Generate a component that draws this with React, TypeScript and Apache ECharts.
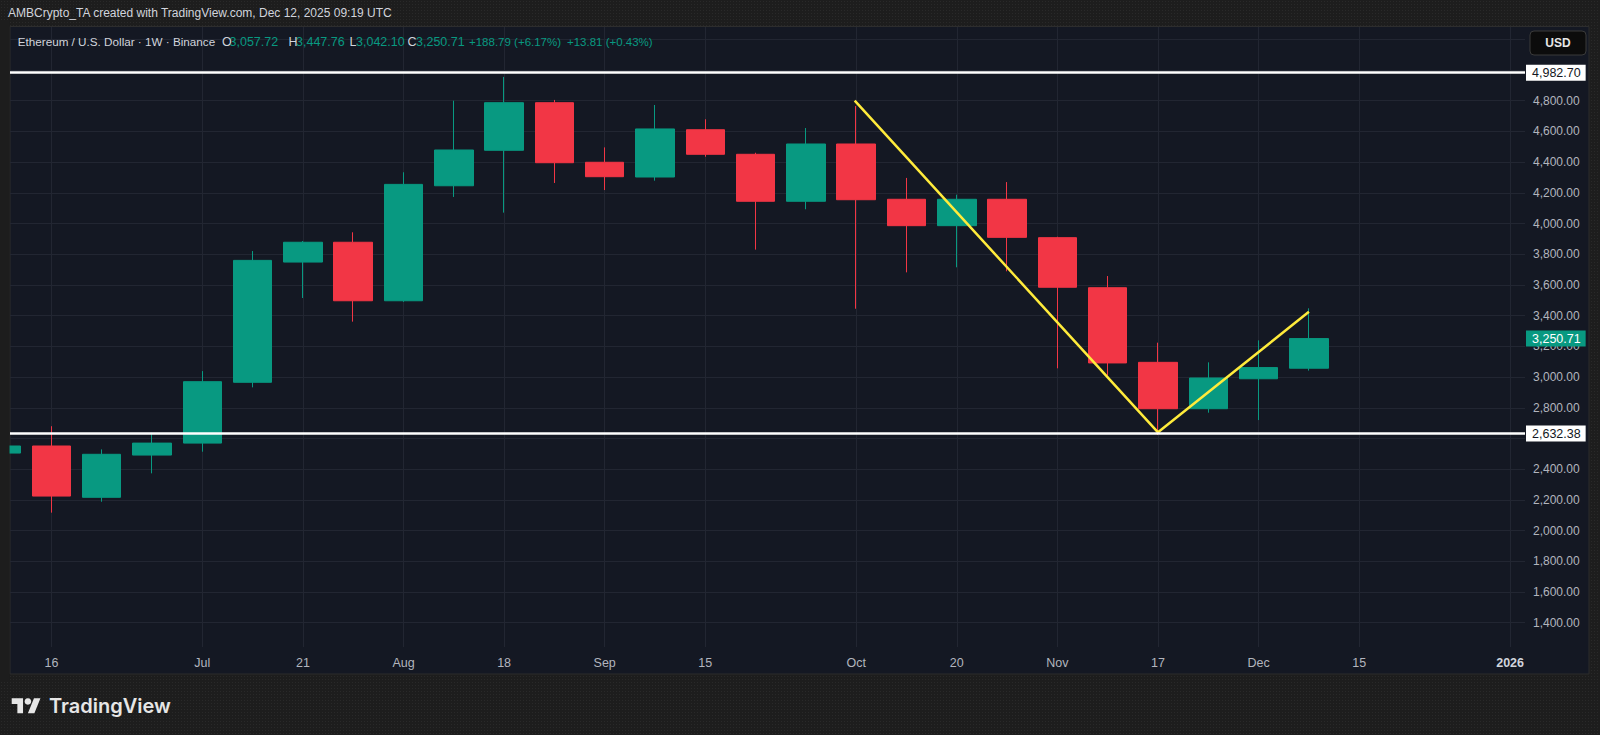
import React, { useEffect, useRef } from 'react';
import * as echarts from 'echarts';

// ---- data (weekly ETH/USD, Binance) ----
const weeks = ['Jun 9','Jun 16','Jun 23','Jun 30','Jul 7','Jul 14','Jul 21','Jul 28','Aug 4','Aug 11','Aug 18','Aug 25','Sep 1','Sep 8','Sep 15','Sep 22','Sep 29','Oct 6','Oct 13','Oct 20','Oct 27','Nov 3','Nov 10','Nov 17','Nov 24','Dec 1','Dec 8'];
const openP  = [2505, 2551, 2217, 2492, 2570, 2966, 3749, 3878, 3497, 4246, 4477, 4787, 4399, 4303, 4611, 4451, 4145, 4518, 4158, 3986, 4158, 3908, 3582, 3096, 2794, 2989, 3057.72];
const highP  = [2880, 2680, 2529, 2637, 3039, 3821, 3886, 3943, 4334, 4800, 4955, 4805, 4496, 4772, 4679, 4461, 4622, 4765, 4297, 4188, 4270, 3914, 3658, 3224, 3096, 3239, 3447.76];
const lowP   = [2440, 2117, 2188, 2373, 2514, 2933, 3515, 3361, 3490, 4173, 4071, 4264, 4218, 4279, 4435, 3830, 4093, 3445, 3682, 3715, 3689, 3057, 3009, 2623, 2768, 2720, 3042.10];
const closeP = [2551, 2225, 2497, 2570, 2970, 3760, 3878, 3497, 4255, 4479, 4787, 4396, 4305, 4616, 4451, 4145, 4518, 4155, 3986, 4158, 3910, 3585, 3092, 2794, 2994, 3061.92, 3250.71];

const timeTickIdx = [1, 4, 6, 8, 10, 12, 14, 17, 19, 21, 23, 25, 27, 30];
const timeTickLabels = ['16', 'Jul', '21', 'Aug', '18', 'Sep', '15', 'Oct', '20', 'Nov', '17', 'Dec', '15', '2026'];
const priceGrid = [1400, 1600, 1800, 2000, 2200, 2400, 2600, 2800, 3000, 3200, 3400, 3600, 3800, 4000, 4200, 4400, 4600, 4800, 5000, 5200];
const priceLabels = [1400, 1600, 1800, 2000, 2200, 2400, 2800, 3000, 3200, 3400, 3600, 3800, 4000, 4200, 4400, 4600, 4800];

const levelLines = [4982.70, 2632.38];
const trendX = [16.97, 23, 26];
const trendY = [4800, 2640, 3425];

const xRange = [0.177, 30.296];
const yRange = [1242, 5280];

const dayChange = '+13.81 (+0.43%)';

const GREEN = '#089981';
const RED = '#f23645';
const FONT = '"Liberation Sans", Arial, sans-serif';
const OUTER = '#1d1d1d';

echarts.graphic.registerShape(
  'tvlogo',
  echarts.graphic.extendPath('M14 22H7V11H0V4h14v18zM28 22h-8l7.5-18h8L28 22z', {})
);

const fmt = (v: number) =>
  v.toLocaleString('en-US', { minimumFractionDigits: 2, maximumFractionDigits: 2 });

export default function App() {
  const ref = useRef<HTMLDivElement>(null);

  useEffect(() => {
    document.body.style.margin = '0';
    const chart = echarts.init(ref.current as HTMLDivElement, undefined, { renderer: 'svg' });

    const last = weeks.length - 1;
    const chg = closeP[last] - closeP[last - 1];
    const chgPct = (chg / closeP[last - 1]) * 100;
    const chgStr = `${chg >= 0 ? '+' : ''}${fmt(chg)} (${chg >= 0 ? '+' : ''}${chgPct.toFixed(2)}%)`;

    const candleData = weeks.map((_, i) => [i, openP[i], closeP[i], lowP[i], highP[i]]);
    const trendData = trendX.map((x, i) => [x, trendY[i]]);

    const legendItem = (x: number, text: string, fill: string, size: number) => ({
      type: 'text',
      x,
      y: 41.5,
      z: 100,
      silent: true,
      style: { text, fill, fontSize: size, fontFamily: FONT, verticalAlign: 'middle', align: 'left' },
    });

    const option: any = {
      animation: false,
      backgroundColor: 'transparent',
      textStyle: { fontFamily: FONT },
      grid: { left: 10, top: 27, width: 1515, height: 620, show: false },
      xAxis: {
        type: 'value',
        min: xRange[0],
        max: xRange[1],
        axisLine: { show: false },
        axisTick: { show: false },
        splitLine: { show: false },
        axisLabel: {
          customValues: timeTickIdx,
          color: '#b2b5be',
          fontSize: 12.5,
          fontFamily: FONT,
          margin: 9,
          formatter: (v: number) => {
            const k = timeTickIdx.indexOf(Math.round(v));
            const s = k >= 0 ? timeTickLabels[k] : '';
            return /^\d{4}$/.test(s) ? `{b|${s}}` : s;
          },
          rich: { b: { fontWeight: 'bold', color: '#d1d4dc', fontSize: 12.5, fontFamily: FONT } },
        },
      },
      yAxis: {
        type: 'value',
        position: 'right',
        min: yRange[0],
        max: yRange[1],
        axisLine: { show: false },
        axisTick: { show: false },
        splitLine: { show: false },
        axisLabel: {
          customValues: priceLabels,
          color: '#b2b5be',
          fontSize: 12,
          fontFamily: FONT,
          margin: 8,
          formatter: (v: number) => fmt(v),
        },
      },
      series: [
        {
          type: 'line',
          data: [],
          z: 1,
          silent: true,
          markLine: {
            silent: true,
            z: 1,
            symbol: ['none', 'none'],
            label: { show: false },
            lineStyle: { color: '#222632', width: 1, type: 'solid' },
            data: [
              ...timeTickIdx.map((i) => ({ xAxis: i })),
              ...priceGrid.map((p) => ({ yAxis: p })),
            ],
          },
        },
        {
          type: 'candlestick',
          z: 2,
          barWidth: 39,
          clip: true,
          encode: { x: 0, y: [1, 2, 3, 4] },
          data: candleData,
          itemStyle: {
            color: GREEN,
            color0: RED,
            borderColor: GREEN,
            borderColor0: RED,
            borderWidth: 1,
          },
          markLine: {
            silent: true,
            z: 6,
            symbol: ['none', 'none'],
            data: [
              ...levelLines.map((p) => ({
                yAxis: p,
                lineStyle: { color: '#ffffff', width: 2.7, type: 'solid' },
                label: {
                  show: true,
                  position: 'end',
                  distance: 1,
                  formatter: (pp: any) => fmt(pp.value),
                  backgroundColor: '#ffffff',
                  color: '#131722',
                  fontSize: 12.5,
                  fontFamily: FONT,
                  lineHeight: 13,
                  padding: [2, 5, 1, 6],
                },
              })),
              {
                yAxis: closeP[last],
                lineStyle: { color: 'rgba(0,0,0,0)', width: 0 },
                label: {
                  show: true,
                  position: 'end',
                  distance: 1,
                  formatter: (pp: any) => fmt(pp.value),
                  backgroundColor: GREEN,
                  color: '#ffffff',
                  fontSize: 12.5,
                  fontFamily: FONT,
                  lineHeight: 13,
                  padding: [2, 5, 1, 6],
                },
              },
            ],
          },
        },
        {
          type: 'line',
          z: 4,
          silent: true,
          data: trendData,
          symbol: 'none',
          lineStyle: { color: '#ffeb3b', width: 2.5 },
        },
      ],
      graphic: [
        {
          type: 'rect',
          z: -10,
          silent: true,
          shape: { x: 10, y: 26.5, width: 1579, height: 647.5 },
          style: { fill: '#141823', stroke: '#2d2d2d', lineWidth: 1 },
        },
        {
          // outer margin left of the pane: hides the part of the first candle outside the plot
          type: 'rect',
          z: 50,
          silent: true,
          shape: { x: 0, y: 20, width: 9.5, height: 660 },
          style: { fill: OUTER },
        },
        {
          type: 'text',
          x: 8,
          y: 13,
          z: 100,
          silent: true,
          style: {
            text: 'AMBCrypto_TA created with TradingView.com, Dec 12, 2025 09:19 UTC',
            fill: '#d1d4dc',
            fontSize: 12,
            fontFamily: FONT,
            verticalAlign: 'middle',
            align: 'left',
          },
        },
        legendItem(17.7, 'Ethereum / U.S. Dollar · 1W · Binance', '#d1d4dc', 11.7),
        legendItem(222, 'O', '#d1d4dc', 12.5),
        legendItem(229.5, fmt(openP[last]), GREEN, 12.5),
        legendItem(288.5, 'H', '#d1d4dc', 12.5),
        legendItem(296, fmt(highP[last]), GREEN, 12.5),
        legendItem(349.5, 'L', '#d1d4dc', 12.5),
        legendItem(356, fmt(lowP[last]), GREEN, 12.5),
        legendItem(407.5, 'C', '#d1d4dc', 12.5),
        legendItem(416, fmt(closeP[last]), GREEN, 12.5),
        legendItem(469, chgStr, GREEN, 11.5),
        legendItem(567, dayChange, GREEN, 11.5),
        {
          type: 'rect',
          z: 100,
          silent: true,
          shape: { x: 1530, y: 31, width: 56, height: 24, r: 4 },
          style: { fill: '#0c0c0c', stroke: '#3a3a3a', lineWidth: 1 },
        },
        {
          type: 'text',
          x: 1558,
          y: 43,
          z: 101,
          silent: true,
          style: {
            text: 'USD',
            fill: '#e6e6e6',
            fontSize: 12,
            fontWeight: 'bold',
            fontFamily: FONT,
            align: 'center',
            verticalAlign: 'middle',
          },
        },
        {
          type: 'tvlogo',
          x: 11.7,
          y: 694.8,
          scaleX: 0.81,
          scaleY: 0.833,
          z: 100,
          silent: true,
          style: { fill: '#e6e6e6' },
        },
        {
          type: 'circle',
          z: 100,
          silent: true,
          shape: { cx: 11.7 + 20 * 0.81, cy: 694.8 + 8 * 0.833, r: 3.3 },
          style: { fill: '#e6e6e6' },
        },
        {
          type: 'text',
          x: 49,
          y: 705.5,
          z: 100,
          silent: true,
          style: {
            text: 'TradingView',
            fill: '#e6e6e6',
            fontSize: 20,
            fontWeight: 600,
            fontFamily: 'Inter, "Noto Sans", sans-serif',
            verticalAlign: 'middle',
            align: 'left',
          },
        },
      ],
    };

    chart.setOption(option);
    return () => chart.dispose();
  }, []);

  return (
    <div
      ref={ref}
      style={{
        position: 'absolute',
        left: 0,
        top: 0,
        width: 1600,
        height: 735,
        backgroundColor: OUTER,
        backgroundImage: 'radial-gradient(rgba(255,255,255,0.05) 0.7px, transparent 0.9px)',
        backgroundSize: '3px 3px',
      }}
    />
  );
}
